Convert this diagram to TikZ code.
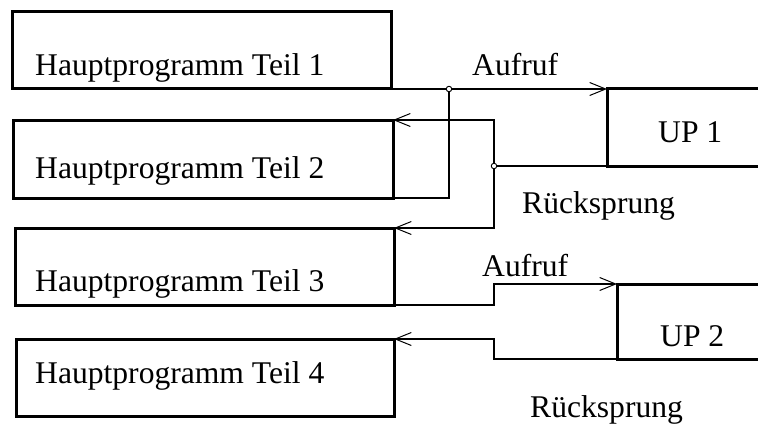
\documentclass[tikz,border=0pt]{standalone}
\usepackage{fontspec}
\setmainfont{Liberation Serif}
\usetikzlibrary{arrows.meta}
\begin{document}
\begin{tikzpicture}[x=1pt,y=-1pt,
  box/.style={draw, line width=3pt, rectangle, inner sep=0pt, outer sep=0pt, anchor=north west},
  lbl/.style={inner sep=0pt, anchor=base west, font=\fontsize{31.6}{36}\selectfont},
  conn/.style={line width=1.1pt},
  flow/.style={conn, -{Straight Barb[length=16pt,width=13pt,line width=1pt]}},
  dot/.style={circle, draw, fill=white, line width=0.9pt, inner sep=0pt, minimum size=5.5pt}]
\clip (0,0) rectangle (758,428);

% main program parts
\node[box, minimum width=379pt, minimum height=77pt] (b1) at (12,12) {};
\node[box, minimum width=380pt, minimum height=78pt] (b2) at (13,120) {};
\node[box, minimum width=379pt, minimum height=77pt] (b3) at (15,228) {};
\node[box, minimum width=378pt, minimum height=77pt] (b4) at (16,339) {};
\node[lbl] (t1) at (35,75) {Hauptprogramm Teil 1};
\node[lbl] (t2) at (35,178) {Hauptprogramm Teil 2};
\node[lbl] (t3) at (35,291) {Hauptprogramm Teil 3};
\node[lbl] (t4) at (35,383) {Hauptprogramm Teil 4};

% subprograms
\node[box, minimum width=193pt, minimum height=77pt] (u1) at (607,89) {};
\node[box, minimum width=183pt, minimum height=75pt] (u2) at (617,284) {};
\node[lbl] (tu1) at (658,142) {UP 1};
\node[lbl] (tu2) at (660,346) {UP 2};

% routing points
\coordinate (j1) at (449,89);
\coordinate (j2) at (494,166);
\coordinate (k1) at (494,305);
\coordinate (k2) at (494,359);

% calls and returns of UP 1
\draw[flow] (b1.south east) -- (u1.north west);
\draw[conn] (j1) |- (b2.south east);
\draw[conn] (u1.south west) -- (j2);
\draw[flow] (j2) |- (b2.north east);
\draw[flow] (j2) |- (b3.north east);
\node[dot] (d1) at (j1) {};
\node[dot] (d2) at (j2) {};

% call and return of UP 2
\draw[flow] (b3.south east) -- (k1) |- (u2.north west);
\draw[flow] (u2.south west) -- (k2) |- (b4.north east);

% connector labels
\node[lbl] (a1) at (472,75) {Aufruf};
\node[lbl] (r1) at (522,213) {Rücksprung};
\node[lbl] (a2) at (482,276) {Aufruf};
\node[lbl] (r2) at (530,417) {Rücksprung};
\end{tikzpicture}
\end{document}
